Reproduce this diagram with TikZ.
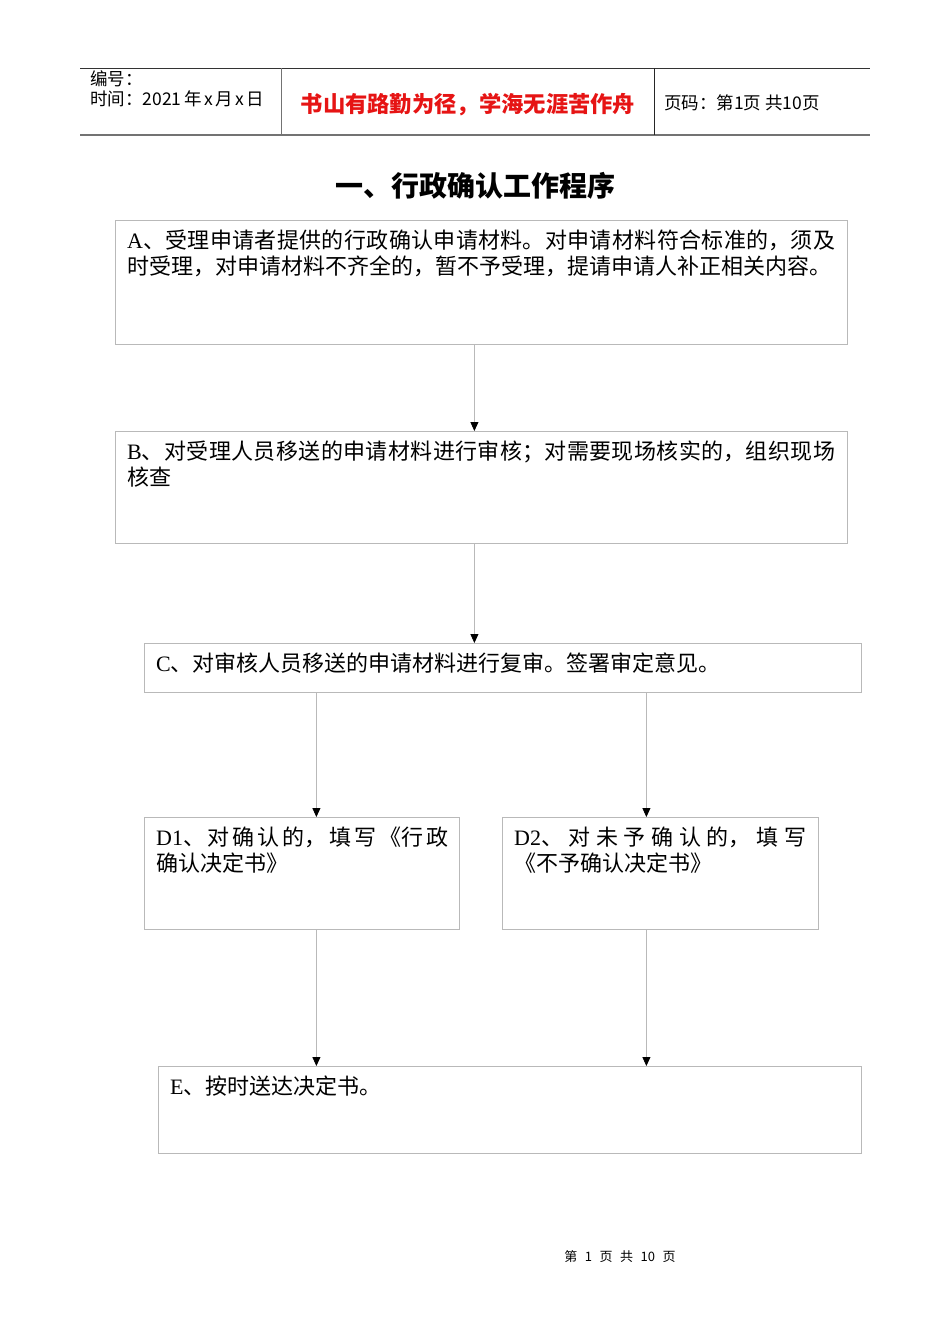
\documentclass[tikz,border=0pt]{standalone}
\usepackage{fontspec}
\setmainfont{Noto Sans CJK SC}
\newfontfamily\latserif{Liberation Serif}
\usetikzlibrary{arrows.meta,positioning}
\XeTeXlinebreaklocale "zh"
\XeTeXlinebreakskip=0pt plus 1pt
\definecolor{boxgray}{RGB}{185,185,185}
\definecolor{redtxt}{RGB}{230,20,20}
\newcommand{\fsp}{\hspace{7.5pt}}
\newcommand{\hsp}{\hspace{2.5pt}}

\begin{document}
\begin{tikzpicture}[x=1pt,y=-1pt,
  box/.style={draw=boxgray, line width=0.8pt, anchor=north west, inner sep=0pt},
  txt/.style={anchor=base west, inner sep=0pt, align=justify, font=\fontsize{22}{26}\selectfont},
  hdr/.style={inner sep=0pt, font=\fontsize{17.5}{20}\selectfont},
  flow/.style={draw=boxgray, line width=0.8pt, -{Triangle[black, width=8pt, length=9pt]}}]

\fill[white] (0,0) rectangle (950,1344);
\useasboundingbox (0,0) rectangle (950,1344);

\draw [line width=0.8pt, black!80] (80,68) -- (870,68);
\draw [line width=1.6pt, black!55] (80,135) -- (870,135);
\draw [line width=0.8pt, black!55] (281,68) -- (281,135);
\draw [line width=0.8pt, black!85] (654,68) -- (654,135);

\node [hdr, anchor=base west] (num) at (90,85.5) {编号：};
\node [hdr, anchor=base west] (date) at (90,105.5) {时间：2021\hsp 年\hsp x\hsp 月\hsp x\hsp 日};
\node [hdr, anchor=base, text=redtxt, font=\fontsize{22.3}{25}\selectfont\bfseries] (motto) at (468,112.5) {书山有路勤为径，学海无涯苦作舟};
\node [hdr, anchor=base west] (page) at (664,109.5) {页码：第1页 共10页};

\node [anchor=base, inner sep=0pt, font=\fontsize{28}{32}\selectfont\bfseries] (title) at (475,196) {一、行政确认工作程序};

\node [box, minimum width=732pt, minimum height=124pt] (A) at (115,220) {};
\node [txt, text width=708pt] (tA) at ([xshift=12pt,yshift=-28.5pt]A.north west)
  {{\latserif A}、受理申请者提供的行政确认申请材料。对申请材料符合标准的，须及时受理，对申请材料不齐全的，暂不予受理，提请申请人补正相关内容。};

\node [box, minimum width=732pt, minimum height=112pt] (B) at (115,431) {};
\node [txt, text width=708pt] (tB) at ([xshift=12pt,yshift=-28.5pt]B.north west)
  {{\latserif B}、对受理人员移送的申请材料进行审核；对需要现场核实的，组织现场核查};

\node [box, minimum width=717pt, minimum height=49pt] (C) at (144,643) {};
\node [txt, text width=693pt] (tC) at ([xshift=12pt,yshift=-28.5pt]C.north west)
  {{\latserif C}、对审核人员移送的申请材料进行复审。签署审定意见。};

\node [box, minimum width=315pt, minimum height=112pt] (D1) at (144,817) {};
\node [txt, text width=292pt] (tD1) at ([xshift=12pt,yshift=-28.5pt]D1.north west)
  {{\latserif D1}、对确认的，填写《行政\linebreak 确认决定书》};

\node [box, minimum width=316pt, minimum height=112pt] (D2) at (502,817) {};
\node [txt, text width=292pt] (tD2) at ([xshift=12pt,yshift=-28.5pt]D2.north west)
  {{\latserif D2}、对未予确认的，填写\linebreak《不予确认决定书》};

\node [box, minimum width=703pt, minimum height=87pt] (E) at (158,1066) {};
\node [txt, text width=679pt] (tE) at ([xshift=12pt,yshift=-28.5pt]E.north west)
  {{\latserif E}、按时送达决定书。};

\draw [flow] ([xshift=-7pt]A.south) -- ([xshift=-7pt]B.north);
\draw [flow] ([xshift=-7pt]B.south) -- ([xshift=-7pt]B.south |- C.north);
\draw [flow] ([xshift=14.5pt]D1.north |- C.south) -- ([xshift=14.5pt]D1.north);
\draw [flow] ([xshift=-14pt]D2.north |- C.south) -- ([xshift=-14pt]D2.north);
\draw [flow] ([xshift=14.5pt]D1.south) -- ([xshift=14.5pt]D1.south |- E.north);
\draw [flow] ([xshift=-14pt]D2.south) -- ([xshift=-14pt]D2.south |- E.north);

\node [anchor=base, inner sep=0pt, font=\fontsize{13}{15}\selectfont] (foot) at (620,1261) {第\fsp 1\fsp 页\fsp 共\fsp 10\fsp 页};

\end{tikzpicture}
\end{document}
